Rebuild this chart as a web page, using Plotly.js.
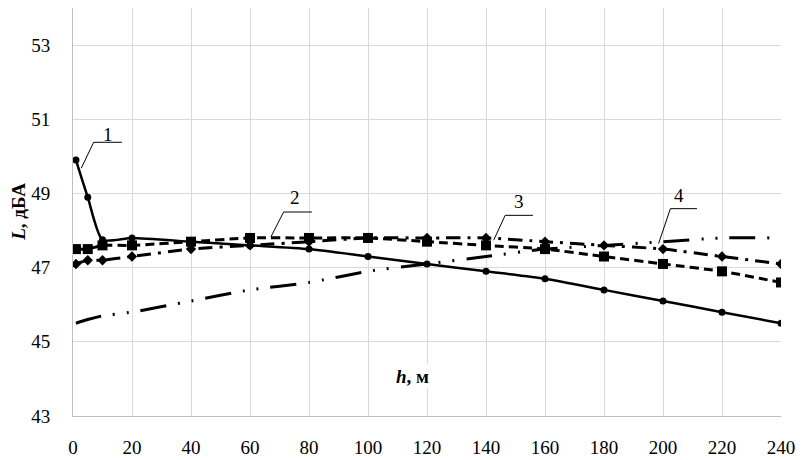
<!DOCTYPE html>
<html>
<head>
<meta charset="utf-8">
<script src="https://cdn.plot.ly/plotly-3.0.1.min.js"></script>
<style>
  html, body { margin: 0; padding: 0; background: #fff; }
  #chart { width: 807px; height: 460px; }
</style>
</head>
<body>
<div id="chart"></div>
<script>
// высота h, м
const heights = [1, 5, 10, 20, 40, 60, 80, 100, 120, 140, 160, 180, 200, 220, 240];
// уровни звука L, дБА по кривым 1-4
const curve1 = [49.9, 48.9, 47.75, 47.8, 47.7, 47.6, 47.5, 47.3, 47.1, 46.9, 46.7, 46.4, 46.1, 45.8, 45.5];
const curve2 = [47.5, 47.5, 47.6, 47.6, 47.7, 47.8, 47.8, 47.8, 47.7, 47.6, 47.5, 47.3, 47.1, 46.9, 46.6];
const curve3 = [47.1, 47.2, 47.2, 47.3, 47.5, 47.6, 47.7, 47.8, 47.8, 47.8, 47.7, 47.6, 47.5, 47.3, 47.1];
const curve4 = [45.5, 45.6, 45.7, 45.8, 46.1, 46.4, 46.6, 46.9, 47.1, 47.3, 47.5, 47.6, 47.7, 47.8, 47.8];

const xTicks = [0, 20, 40, 60, 80, 100, 120, 140, 160, 180, 200, 220, 240];
const yTicks = [43, 45, 47, 49, 51, 53];

// номера кривых и выноски
const labelText = ['1', '2', '3', '4'];

const serif = 'Liberation Serif, Times New Roman, serif';

const traces = [
  { x: heights, y: curve4, mode: 'lines', line: { color: '#000', width: 3, dash: '26px,12px,2px,12px,2px,12px', shape: 'spline', smoothing: 0.6 } },
  { x: heights, y: curve3, mode: 'lines+markers', line: { color: '#000', width: 3, dash: '14px,7px,3px,7px', shape: 'spline', smoothing: 0.6 },
    marker: { symbol: 'diamond', size: 8, color: '#000' } },
  { x: heights, y: curve2, mode: 'lines+markers', line: { color: '#000', width: 3, dash: '9px,5px', shape: 'spline', smoothing: 0.6 },
    marker: { symbol: 'square', size: 10, color: '#000' } },
  { x: heights, y: curve1, mode: 'lines+markers', line: { color: '#000', width: 2.5, shape: 'spline', smoothing: 0.6 },
    marker: { symbol: 'circle', size: 7, color: '#000' } }
];

// выноски: наклонный отрезок + полка
const leaders = [
  { x0: 2.8, y0: 49.68, x1: 7.0, y1: 50.38, x2: 16.6, tx: 12, ty: 50.6 },
  { x0: 67.1, y0: 47.83, x1: 71.4, y1: 48.5, x2: 81.0, tx: 75.4, ty: 48.88 },
  { x0: 142.6, y0: 47.74, x1: 146.5, y1: 48.41, x2: 155.9, tx: 151.1, ty: 48.78 },
  { x0: 198.5, y0: 47.65, x1: 202.5, y1: 48.59, x2: 211.5, tx: 205.3, ty: 48.95 }
];

const shapes = [];
const annotations = [];
leaders.forEach((l, i) => {
  shapes.push({ type: 'line', xref: 'x', yref: 'y', x0: l.x0, y0: l.y0, x1: l.x1, y1: l.y1, line: { color: '#000', width: 1 } });
  shapes.push({ type: 'line', xref: 'x', yref: 'y', x0: l.x1, y0: l.y1, x1: l.x2, y1: l.y1, line: { color: '#000', width: 1 } });
  annotations.push({ x: l.tx, y: l.ty, xref: 'x', yref: 'y', text: labelText[i], showarrow: false,
    font: { family: serif, size: 19, color: '#000' } });
});

// подписи осей
annotations.push({ x: 115, y: 44.07, xref: 'x', yref: 'y', text: '<b><i>h</i>, м</b>', showarrow: false,
  bgcolor: '#fff', font: { family: serif, size: 19, color: '#000' } });
annotations.push({ x: -0.078, y: 0.5, xref: 'paper', yref: 'paper', text: '<b><i>L</i>, дБА</b>', showarrow: false,
  textangle: -90, xanchor: 'center', yanchor: 'middle', font: { family: serif, size: 19, color: '#000' } });

const layout = {
  width: 807, height: 460,
  margin: { l: 73, r: 26, t: 8, b: 44 },
  paper_bgcolor: '#fff', plot_bgcolor: '#fff',
  showlegend: false,
  font: { family: serif, size: 19, color: '#000' },
  xaxis: {
    range: [0, 240], tickvals: xTicks, ticktext: xTicks.map(String),
    showgrid: true, gridcolor: '#d9d9d9', gridwidth: 1,
    showline: true, linecolor: '#bfbfbf', linewidth: 1,
    zeroline: false, ticks: '', ticklabelstandoff: 14,
    tickfont: { family: serif, size: 19, color: '#000' }
  },
  yaxis: {
    range: [43, 54], tickvals: yTicks, ticktext: yTicks.map(String),
    showgrid: true, gridcolor: '#d9d9d9', gridwidth: 1,
    showline: true, linecolor: '#bfbfbf', linewidth: 1,
    zeroline: false, ticks: '', ticklabelstandoff: 18,
    tickfont: { family: serif, size: 19, color: '#000' }
  },
  shapes: shapes,
  annotations: annotations
};

Plotly.newPlot('chart', traces, layout, { displayModeBar: false, staticPlot: true });
</script>
</body>
</html>
